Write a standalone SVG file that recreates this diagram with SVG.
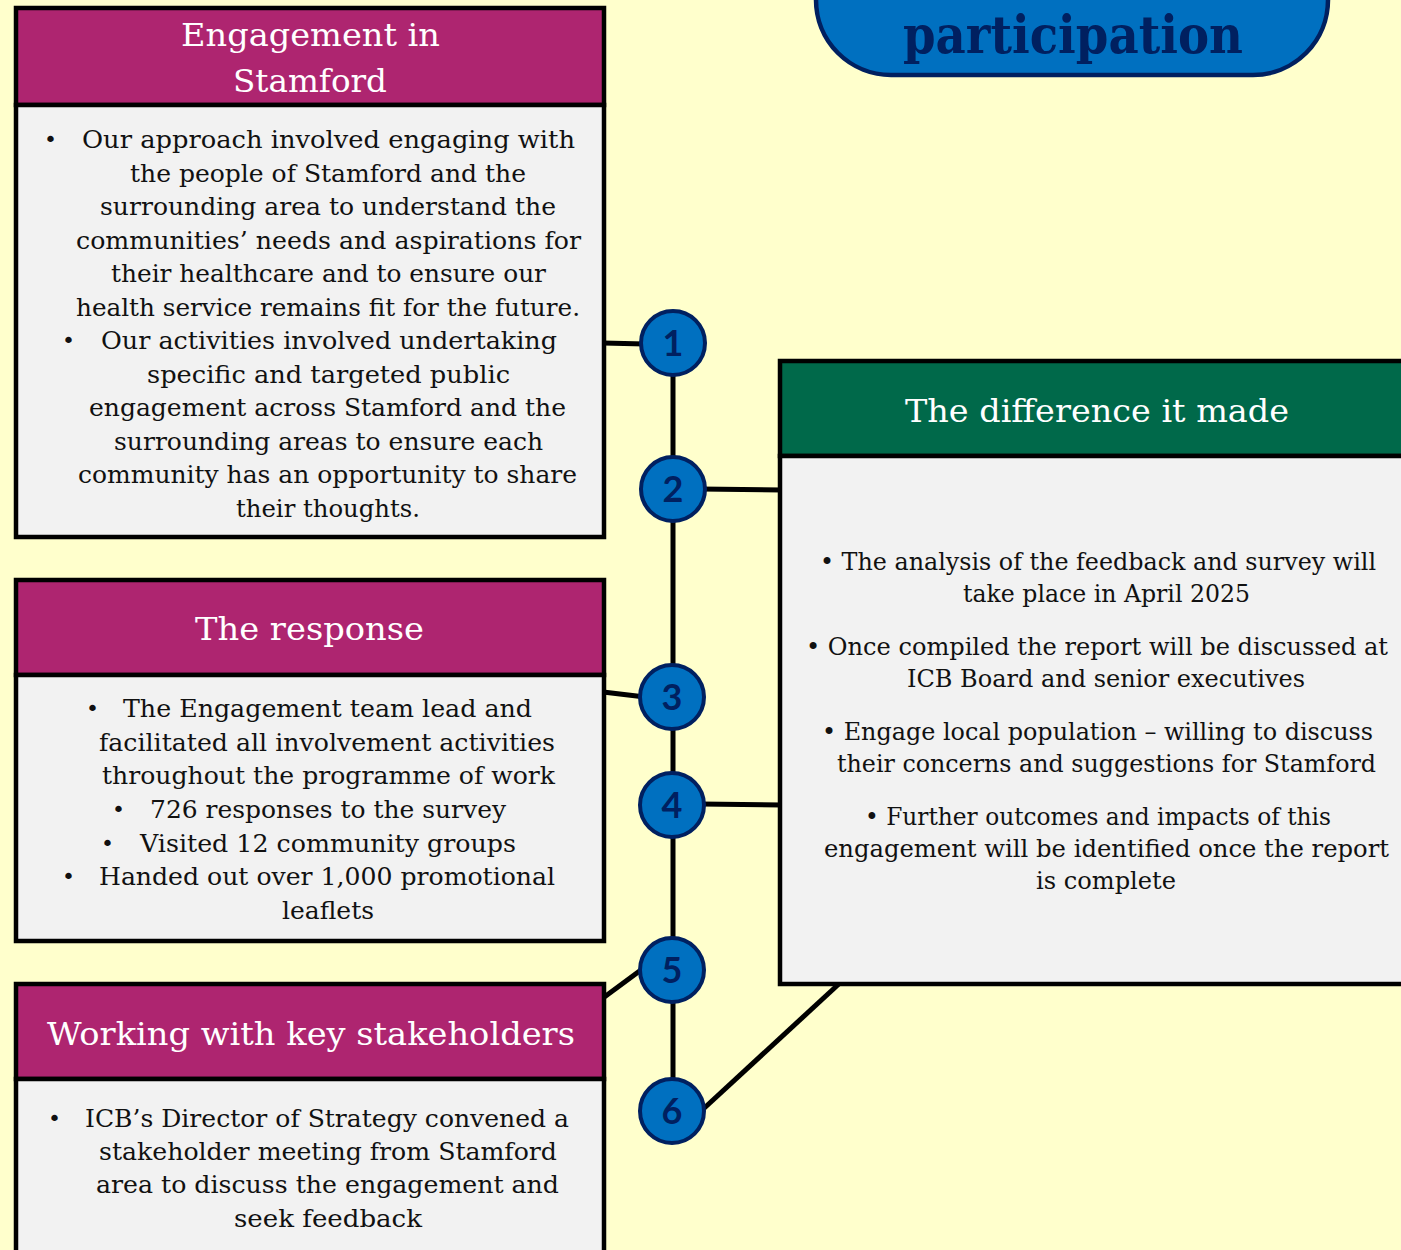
<svg xmlns="http://www.w3.org/2000/svg" width="1401" height="1250" viewBox="0 0 1401 1250">
<defs>
<style>
.bg{fill:#FFFFCC}
.hdr{fill:#AE2570;stroke:#000;stroke-width:4.5}
.hdrg{fill:#00694A;stroke:#000;stroke-width:4.5}
.body{fill:#F2F2F2;stroke:#000;stroke-width:4.5}
.ht{font-family:"DejaVu Serif","Liberation Serif",serif;font-size:31px;fill:#FFFFFF}
.bt{font-family:"DejaVu Serif","Liberation Serif",serif;font-size:25px;fill:#111111}
.rt{font-family:"DejaVu Serif","Liberation Serif",serif;font-size:24px;fill:#111111}
.bul{font-family:"DejaVu Sans","Liberation Sans",sans-serif;font-size:22px;fill:#111111}
.conn{stroke:#000;stroke-width:5;fill:none}
.circ{fill:#0070C0;stroke:#002060;stroke-width:4}
.num{font-family:Lato,"Open Sans",sans-serif;font-weight:bold;font-size:36px;fill:#002060;text-anchor:middle}
.pill{fill:#0070C0;stroke:#002060;stroke-width:4.5}
.ptitle{font-family:"DejaVu Serif","Liberation Serif",serif;font-weight:bold;font-size:53px;fill:#002060}
</style>
</defs>
<rect class="bg" x="0" y="0" width="1401" height="1250"/>

<g id="title">
<rect class="pill" x="816" y="-160" width="512" height="235" rx="75" ry="75"/>
<text class="ptitle" x="903" y="53" textLength="340" lengthAdjust="spacingAndGlyphs">participation</text>
</g>

<g id="connectors">
<line class="conn" x1="673" y1="343" x2="673" y2="1111"/>
<line class="conn" x1="603" y1="343" x2="645" y2="344"/>
<line class="conn" x1="700" y1="489" x2="782" y2="490"/>
<line class="conn" x1="603" y1="692" x2="645" y2="697"/>
<line class="conn" x1="700" y1="804" x2="782" y2="805"/>
<line class="conn" x1="603" y1="998" x2="645" y2="967"/>
<line class="conn" x1="700" y1="1112" x2="841" y2="982"/>
</g>

<g id="engagement">
<rect class="hdr" x="16" y="8" width="588" height="97"/>
<rect class="body" x="16" y="105" width="588" height="432"/>
<text class="ht" x="181" y="46" textLength="259" lengthAdjust="spacingAndGlyphs">Engagement in</text>
<text class="ht" x="233" y="92" textLength="154" lengthAdjust="spacingAndGlyphs">Stamford</text>
<text class="bul" x="44" y="147">•</text>
<text class="bt" x="82" y="148" textLength="493" lengthAdjust="spacingAndGlyphs">Our approach involved engaging with</text>
<text class="bt" x="130" y="182" textLength="396" lengthAdjust="spacingAndGlyphs">the people of Stamford and the</text>
<text class="bt" x="100" y="215" textLength="456" lengthAdjust="spacingAndGlyphs">surrounding area to understand the</text>
<text class="bt" x="76" y="249" textLength="505" lengthAdjust="spacingAndGlyphs">communities’ needs and aspirations for</text>
<text class="bt" x="111" y="282" textLength="435" lengthAdjust="spacingAndGlyphs">their healthcare and to ensure our</text>
<text class="bt" x="76" y="316" textLength="504" lengthAdjust="spacingAndGlyphs">health service remains fit for the future.</text>
<text class="bul" x="62" y="348">•</text>
<text class="bt" x="101" y="349" textLength="456" lengthAdjust="spacingAndGlyphs">Our activities involved undertaking</text>
<text class="bt" x="147" y="383" textLength="363" lengthAdjust="spacingAndGlyphs">specific and targeted public</text>
<text class="bt" x="89" y="416" textLength="477" lengthAdjust="spacingAndGlyphs">engagement across Stamford and the</text>
<text class="bt" x="114" y="450" textLength="429" lengthAdjust="spacingAndGlyphs">surrounding areas to ensure each</text>
<text class="bt" x="78" y="483" textLength="499" lengthAdjust="spacingAndGlyphs">community has an opportunity to share</text>
<text class="bt" x="236" y="517" textLength="184" lengthAdjust="spacingAndGlyphs">their thoughts.</text>
</g>

<g id="response">
<rect class="hdr" x="16" y="580" width="588" height="95"/>
<rect class="body" x="16" y="675" width="588" height="266"/>
<text class="ht" x="195" y="640" textLength="229" lengthAdjust="spacingAndGlyphs">The response</text>
<text class="bul" x="86" y="716">•</text>
<text class="bt" x="123" y="717" textLength="409" lengthAdjust="spacingAndGlyphs">The Engagement team lead and</text>
<text class="bt" x="99" y="751" textLength="456" lengthAdjust="spacingAndGlyphs">facilitated all involvement activities</text>
<text class="bt" x="102" y="784" textLength="453" lengthAdjust="spacingAndGlyphs">throughout the programme of work</text>
<text class="bul" x="112" y="817">•</text>
<text class="bt" x="150" y="818" textLength="356" lengthAdjust="spacingAndGlyphs">726 responses to the survey</text>
<text class="bul" x="101" y="851">•</text>
<text class="bt" x="140" y="852" textLength="376" lengthAdjust="spacingAndGlyphs">Visited 12 community groups</text>
<text class="bul" x="62" y="884">•</text>
<text class="bt" x="99" y="885" textLength="456" lengthAdjust="spacingAndGlyphs">Handed out over 1,000 promotional</text>
<text class="bt" x="282" y="919" textLength="92" lengthAdjust="spacingAndGlyphs">leaflets</text>
</g>

<g id="stakeholders">
<rect class="hdr" x="16" y="984" width="588" height="95"/>
<rect class="body" x="16" y="1079" width="588" height="200"/>
<text class="ht" x="47" y="1045" textLength="528" lengthAdjust="spacingAndGlyphs">Working with key stakeholders</text>
<text class="bul" x="48" y="1126">•</text>
<text class="bt" x="85" y="1127" textLength="484" lengthAdjust="spacingAndGlyphs">ICB’s Director of Strategy convened a</text>
<text class="bt" x="99" y="1160" textLength="458" lengthAdjust="spacingAndGlyphs">stakeholder meeting from Stamford</text>
<text class="bt" x="96" y="1193" textLength="463" lengthAdjust="spacingAndGlyphs">area to discuss the engagement and</text>
<text class="bt" x="234" y="1227" textLength="188" lengthAdjust="spacingAndGlyphs">seek feedback</text>
</g>

<g id="difference">
<rect class="hdrg" x="780" y="361" width="640" height="95"/>
<rect class="body" x="780" y="456" width="640" height="528"/>
<text class="ht" x="905" y="422" textLength="384" lengthAdjust="spacingAndGlyphs">The difference it made</text>
<text class="rt" x="820" y="570" textLength="556" lengthAdjust="spacingAndGlyphs">• The analysis of the feedback and survey will</text>
<text class="rt" x="963" y="602" textLength="287" lengthAdjust="spacingAndGlyphs">take place in April 2025</text>
<text class="rt" x="806" y="655" textLength="582" lengthAdjust="spacingAndGlyphs">• Once compiled the report will be discussed at</text>
<text class="rt" x="907" y="687" textLength="398" lengthAdjust="spacingAndGlyphs">ICB Board and senior executives</text>
<text class="rt" x="822" y="740" textLength="551" lengthAdjust="spacingAndGlyphs">• Engage local population – willing to discuss</text>
<text class="rt" x="837" y="772" textLength="539" lengthAdjust="spacingAndGlyphs">their concerns and suggestions for Stamford</text>
<text class="rt" x="865" y="825" textLength="466" lengthAdjust="spacingAndGlyphs">• Further outcomes and impacts of this</text>
<text class="rt" x="824" y="857" textLength="565" lengthAdjust="spacingAndGlyphs">engagement will be identified once the report</text>
<text class="rt" x="1036" y="889" textLength="140" lengthAdjust="spacingAndGlyphs">is complete</text>
</g>

<g id="step1"><circle class="circ" cx="673" cy="343" r="32"/><text class="num" x="673" y="356">1</text></g>
<g id="step2"><circle class="circ" cx="673" cy="489" r="32"/><text class="num" x="673" y="502">2</text></g>
<g id="step3"><circle class="circ" cx="672" cy="697" r="32"/><text class="num" x="672" y="710">3</text></g>
<g id="step4"><circle class="circ" cx="672" cy="805" r="32"/><text class="num" x="672" y="818">4</text></g>
<g id="step5"><circle class="circ" cx="672" cy="970" r="32"/><text class="num" x="672" y="983">5</text></g>
<g id="step6"><circle class="circ" cx="672" cy="1111" r="32"/><text class="num" x="672" y="1124">6</text></g>
</svg>
